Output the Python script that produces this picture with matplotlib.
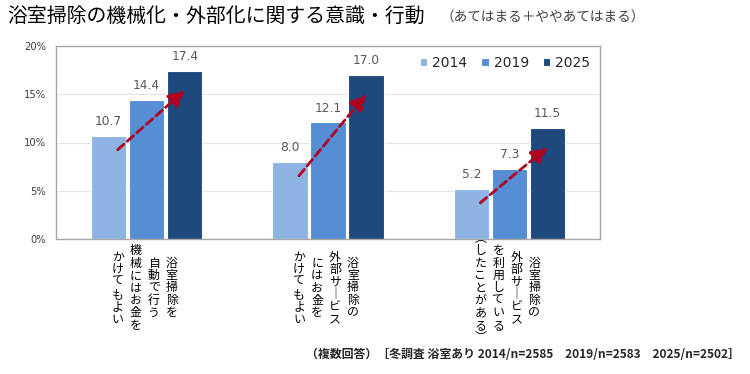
import matplotlib
matplotlib.use("Agg")
import matplotlib.pyplot as plt
import numpy as np

# ---- data ----
years = ["2014", "2019", "2025"]
categories = [
    ["浴室掃除を", "自動で行う", "機械にはお金を", "かけてもよい"],
    ["浴室掃除の", "外部サービス", "にはお金を", "かけてもよい"],
    ["浴室掃除の", "外部サービス", "を利用している", "（したことがある）"],
]
v2014 = [10.7, 8.0, 5.2]
v2019 = [14.4, 12.1, 7.3]
v2025 = [17.4, 17.0, 11.5]
yticks = [0, 5, 10, 15, 20]
title_main = "浴室掃除の機械化・外部化に関する意識・行動"
title_sub = "（あてはまる＋ややあてはまる）"
footer = "（複数回答）［冬調査 浴室あり 2014/n=2585　2019/n=2583　2025/n=2502］"

colors = ["#8DB4E2", "#558ED5", "#1F497D"]
arrow_color = "#B00020"
cjk = ["Noto Sans CJK JP", "DejaVu Sans"]

W, H = 750, 374
fig = plt.figure(figsize=(W / 100, H / 100), dpi=100)
ax = fig.add_axes([56 / W, 1 - 239 / H, (600 - 56) / W, (239 - 46) / H])

x = np.arange(len(categories))
step = 0.21
bw = 0.195
series = [v2014, v2019, v2025]
for i, (vals, c, yr) in enumerate(zip(series, colors, years)):
    pos = x + (i - 1) * step
    ax.bar(pos, vals, width=bw, color=c, edgecolor="white", linewidth=0.8, label=yr, zorder=2)
    for p, v in zip(pos, vals):
        ax.annotate(f"{v:.1f}", xy=(p, v), xytext=(0, 5.5), textcoords="offset points",
                    ha="center", va="bottom", fontsize=8.8, color="#595959", family="DejaVu Sans")

# trend arrows
for xi, a, b in zip(x, v2014, v2025):
    ax.annotate("", xy=(xi + 0.21, b - 2.0), xytext=(xi - 0.16, a - 1.45),
                arrowprops=dict(arrowstyle="-|>,head_length=0.8,head_width=0.4",
                                color=arrow_color, lw=2.0, linestyle=(0, (3, 1.6)),
                                mutation_scale=12, shrinkA=0, shrinkB=0),
                zorder=4)

ax.set_xlim(-0.5, len(categories) - 0.5)
ax.set_ylim(0, 20)
ax.set_yticks(yticks)
ax.set_yticklabels([f"{t}%" for t in yticks], fontsize=7.2, color="#404040", family="DejaVu Sans")
ax.set_xticks([])
ax.tick_params(axis="y", length=0, pad=7)
ax.grid(axis="y", color="#E3E3E3", linewidth=0.8, zorder=0)
ax.set_axisbelow(True)
for s in ax.spines.values():
    s.set_color("#A6A6A6")
    s.set_linewidth(1.0)

# vertical (tategaki) category labels, columns right-to-left
vmap = {"ー": "｜", "（": "︵", "）": "︶"}
col_dx = [25, 7, -11, -29]
pitch = 12.4
for xi, cols in zip(x, categories):
    for ci, col in enumerate(cols):
        chars = [vmap.get(ch, ch) for ch in col]
        n = len(chars)
        for k, ch in enumerate(chars):
            dy = -49 - (k - (n - 1) / 2) * pitch
            ax.annotate(ch, xy=(xi, 0), xycoords=("data", "axes fraction"),
                        xytext=(col_dx[ci], dy), textcoords="offset pixels",
                        ha="center", va="center", fontsize=8.6, family=cjk,
                        color="#000000", annotation_clip=False)

# legend
leg = ax.legend(ncol=3, loc="upper right", bbox_to_anchor=(1.0, 1.0), frameon=False,
                handlelength=0.55, handleheight=0.55, handletextpad=0.35,
                columnspacing=1.0, borderaxespad=0.3,
                prop={"family": "DejaVu Sans", "size": 10})
for t in leg.get_texts():
    t.set_color("#262626")

# titles & footer
fig.text(7 / W, 1 - 16 / H, title_main, fontsize=14.3, family=cjk, ha="left", va="center", color="#000000")
fig.text(440 / W, 1 - 17 / H, title_sub, fontsize=9.8, family=cjk, ha="left", va="center", color="#404040")
fig.text(740 / W, 1 - 355 / H, footer, fontsize=8.6, family=cjk, weight="bold",
         ha="right", va="center", color="#262626")

fig.savefig("out.png", dpi=100, facecolor="white")
